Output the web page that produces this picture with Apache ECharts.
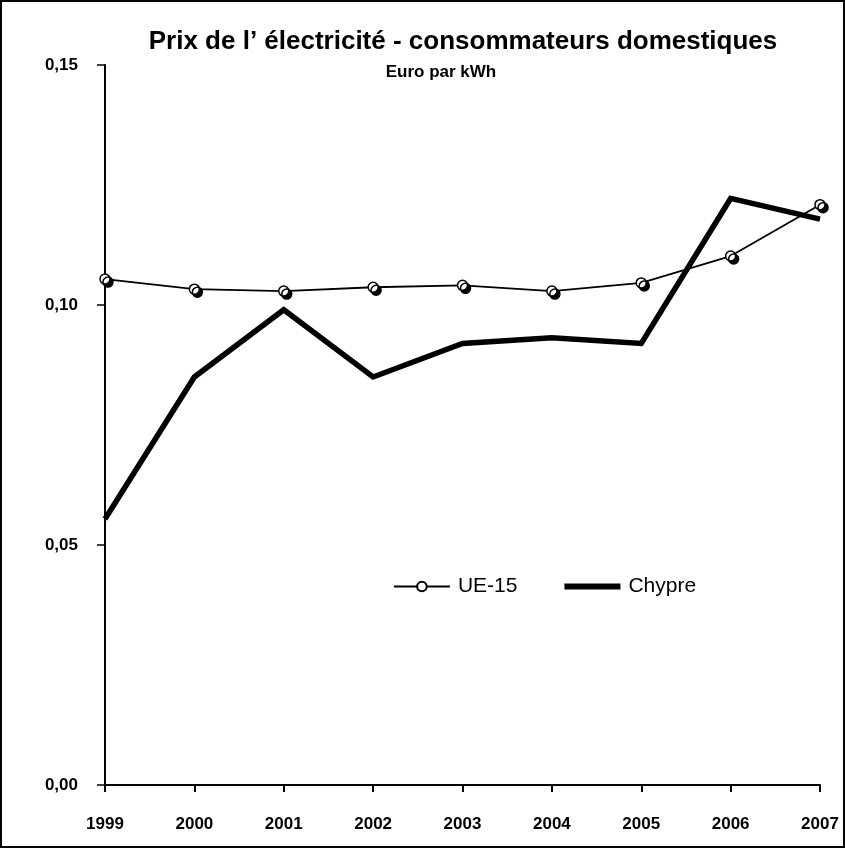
<!DOCTYPE html>
<html>
<head>
<meta charset="utf-8">
<script src="https://cdn.jsdelivr.net/npm/echarts@6/dist/echarts.min.js"></script>
<style>
html,body{margin:0;padding:0;background:#fff;}
#c{width:845px;height:848px;}
</style>
</head>
<body>
<div id="c"></div>
<script>
const years = ['1999','2000','2001','2002','2003','2004','2005','2006','2007'];
const ue15 = [0.1054, 0.1033, 0.1029, 0.1037, 0.1041, 0.1029, 0.1046, 0.1102, 0.1209];
const chypre = [0.0554, 0.0850, 0.0990, 0.0850, 0.0920, 0.0932, 0.0920, 0.1222, 0.1179];
const seriesNames = ['UE-15', 'Chypre'];
const titleText = 'Prix de l\u2019 électricité - consommateurs domestiques';
const subtitleText = 'Euro par kWh';

const FONT = "'Liberation Sans', Arial, sans-serif";
const chart = echarts.init(document.getElementById('c'), null, {renderer: 'canvas'});
chart.setOption({
  animation: false,
  backgroundColor: '#fff',
  grid: {left: 105, right: 25, top: 65, bottom: 63, containLabel: false},
  graphic: [
    {type: 'rect', shape: {x: 1, y: 1, width: 843, height: 846}, style: {fill: 'none', stroke: '#000', lineWidth: 2}, z: 100},
    {type: 'text', x: 463, y: 42, style: {text: titleText, fontFamily: FONT, fontWeight: 'bold', fontSize: 26, fill: '#000', textAlign: 'center', textVerticalAlign: 'middle'}},
    {type: 'text', x: 441, y: 72, style: {text: subtitleText, fontFamily: FONT, fontWeight: 'bold', fontSize: 17, fill: '#000', textAlign: 'center', textVerticalAlign: 'middle'}}
  ],
  legend: {
    left: 388, top: 571, orient: 'horizontal',
    itemWidth: 56, itemHeight: 12, itemGap: 47,
    textStyle: {fontFamily: FONT, fontSize: 21, color: '#000', padding: [0, 0, 0, 3]},
    lineStyle: {width: 'inherit'},
    itemStyle: {shadowColor: 'rgba(0,0,0,0)', shadowOffsetX: 0, shadowOffsetY: 0, shadowBlur: 0},
    data: [
      {name: seriesNames[0]},
      {name: seriesNames[1], icon: 'path://M0,0 L56,0 L56,6 L0,6 Z', itemStyle: {color: '#000', borderWidth: 0}}
    ]
  },
  xAxis: {
    type: 'category', data: years, boundaryGap: false,
    axisLine: {lineStyle: {color: '#000', width: 2}},
    axisTick: {show: true, inside: false, length: 7, alignWithLabel: true, lineStyle: {color: '#000', width: 2}},
    axisLabel: {fontFamily: FONT, fontWeight: 'bold', fontSize: 17, color: '#000', margin: 31, interval: 0},
    splitLine: {show: false}
  },
  yAxis: {
    type: 'value', min: 0, max: 0.15, interval: 0.05,
    axisLine: {show: true, lineStyle: {color: '#000', width: 2}},
    axisTick: {show: true, inside: false, length: 8, lineStyle: {color: '#000', width: 1.5}},
    axisLabel: {fontFamily: FONT, fontWeight: 'bold', fontSize: 17, color: '#000', margin: 27,
      formatter: v => v.toFixed(2).replace('.', ',')},
    splitLine: {show: false}
  },
  series: [
    {
      name: seriesNames[0], type: 'line', data: ue15,
      symbol: 'circle', symbolSize: 10, showSymbol: true,
      lineStyle: {color: '#000', width: 1.8},
      itemStyle: {color: '#fff', borderColor: '#000', borderWidth: 1.5,
        shadowColor: '#000', shadowBlur: 0, shadowOffsetX: 3, shadowOffsetY: 3},
      z: 3
    },
    {
      name: seriesNames[1], type: 'line', data: chypre,
      symbol: 'none', showSymbol: false,
      lineStyle: {color: '#000', width: 5.5, cap: 'butt', join: 'miter'},
      itemStyle: {color: '#000'},
      z: 2
    }
  ]
});
</script>
</body>
</html>
